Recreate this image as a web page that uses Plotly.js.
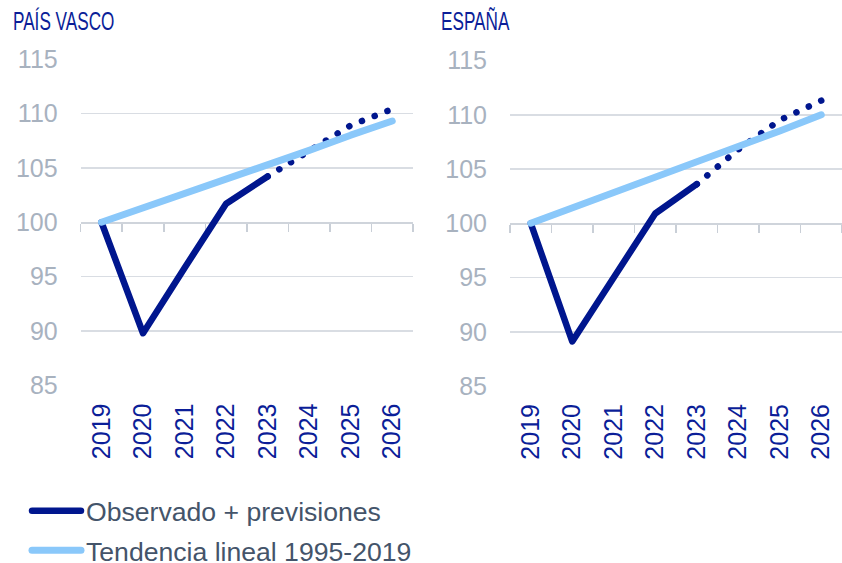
<!DOCTYPE html>
<html>
<head>
<meta charset="utf-8">
<script src="https://cdn.plot.ly/plotly-3.0.1.min.js"></script>
<style>
html,body{margin:0;padding:0;background:#fff;}
#chart{width:842px;height:563px;}
.js-line{stroke-linecap:round;stroke-linejoin:round;}
</style>
</head>
<body>
<div id="chart"></div>
<script>
// ---- data ----
const years = [2019, 2020, 2021, 2022, 2023, 2024, 2025, 2026];
const lastObservedYear = 2023;
const pvObserved = [100, 89.8, 95.8, 101.7, 104.2, 106.6, 108.9, 110.4];
const pvTrend    = [100, 101.3, 102.7, 104.0, 105.3, 106.6, 108.0, 109.3];
const esObserved = [100, 89.1, 95.0, 100.9, 103.6, 106.8, 109.5, 111.3];
const esTrend    = [100, 101.4, 102.8, 104.2, 105.7, 107.1, 108.5, 110.0];
const panelTitles = ['PAÍS VASCO', 'ESPAÑA'];
const seriesNames = ['Observado + previsiones', 'Tendencia lineal 1995-2019'];
const yTickValues = [85, 90, 95, 100, 105, 110, 115];

// ---- styles ----
const DARK = '#00168e';
const LIGHT = '#8ac8fa';
const GRID = '#d9dde3';
const W = 842, H = 563;

const split = years.indexOf(lastObservedYear) + 1;
function obsTraces(vals, xa, ya, showLeg) {
  return [
    {x: years.slice(0, split), y: vals.slice(0, split), xaxis: xa, yaxis: ya,
     type: 'scatter', mode: 'lines', name: seriesNames[0], legendgroup: 'a',
     showlegend: showLeg, line: {color: DARK, width: 6.5}, hoverinfo: 'x+y'},
    {x: years.slice(split - 1), y: vals.slice(split - 1), xaxis: xa, yaxis: ya,
     type: 'scatter', mode: 'lines', name: seriesNames[0], legendgroup: 'a',
     showlegend: false, line: {color: DARK, width: 6.5, dash: '0.1px,13.6px'}, hoverinfo: 'x+y'}
  ];
}
function trendTrace(vals, xa, ya, showLeg) {
  return {x: years, y: vals, xaxis: xa, yaxis: ya, type: 'scatter', mode: 'lines',
    name: seriesNames[1], legendgroup: 'b', showlegend: showLeg,
    line: {color: LIGHT, width: 7}, hoverinfo: 'x+y'};
}

const data = [].concat(
  obsTraces(pvObserved, 'x', 'y', true),
  obsTraces(esObserved, 'x2', 'y2', false),
  [trendTrace(pvTrend, 'x3', 'y', true), trendTrace(esTrend, 'x4', 'y2', false)]
);

const FONT = 'Liberation Sans, Arial, sans-serif';
const xRange = [years[0] - 0.5, years[years.length - 1] + 0.5];
const dom1x = [80.7 / W, 413 / W], dom2x = [510 / W, 1.0];
const dom1y = [(H - 385.5) / H, (H - 59) / H], dom2y = [(H - 386) / H, (H - 60.5) / H];

function labelAxis(domain, anchor) {
  return {domain: domain, anchor: anchor, range: xRange, tickmode: 'array',
    tickvals: years, ticktext: years.map(String), tickangle: -90, ticks: '',
    showline: false, showgrid: false, zeroline: false, ticklabelstandoff: 12,
    tickfont: {family: FONT, size: 25, color: '#0b1e98'}, fixedrange: true};
}
function baseAxis(overlay, ydom) {
  return {overlaying: overlay, anchor: 'free', position: (ydom[0] + ydom[1]) / 2,
    side: 'bottom', layer: 'below traces', range: xRange, tickmode: 'linear',
    tick0: xRange[0], dtick: 1,
    ticks: 'outside', ticklen: 8, tickwidth: 1.5, tickcolor: '#c9cfd7',
    showline: true, linecolor: '#cfd4db', linewidth: 1.5,
    showticklabels: false, showgrid: false, zeroline: false, fixedrange: true};
}
function valueAxis(domain, anchor) {
  return {domain: domain, anchor: anchor, range: [85, 115], tickmode: 'array',
    tickvals: yTickValues, showgrid: true, gridcolor: GRID, gridwidth: 1.5,
    zeroline: false, showline: false, ticks: '', ticklabelstandoff: 22,
    tickfont: {family: FONT, size: 25, color: '#a8b2bf'}, fixedrange: true};
}

const layout = {
  width: W, height: H, margin: {l: 0, r: 0, t: 0, b: 0, autoexpand: false},
  paper_bgcolor: '#fff', plot_bgcolor: 'rgba(0,0,0,0)',
  showlegend: true,
  xaxis: labelAxis(dom1x, 'y'),
  xaxis2: labelAxis(dom2x, 'y2'),
  xaxis3: baseAxis('x', dom1y),
  xaxis4: baseAxis('x2', dom2y),
  yaxis: valueAxis(dom1y, 'x'),
  yaxis2: valueAxis(dom2y, 'x2'),
  legend: {x: 20 / W, y: 1 - 487 / H, xanchor: 'left', yanchor: 'top',
    orientation: 'v', traceorder: 'grouped', tracegroupgap: 2, itemwidth: 56,
    font: {family: FONT, size: 26.6, color: '#44546a'}, bgcolor: 'rgba(0,0,0,0)'},
  annotations: [
    {text: panelTitles[0], xref: 'paper', yref: 'paper', x: 11 / W, y: 1 - 21 / H,
     xanchor: 'left', yanchor: 'middle', showarrow: false,
     font: {family: FONT, size: 26, color: '#0b1e98'}},
    {text: panelTitles[1], xref: 'paper', yref: 'paper', x: 439 / W, y: 1 - 21 / H,
     xanchor: 'left', yanchor: 'middle', showarrow: false,
     font: {family: FONT, size: 26, color: '#0b1e98'}}
  ]
};

Plotly.newPlot('chart', data, layout, {staticPlot: true, displayModeBar: false}).then(function (gd) {
  // widen legend line samples to match the reference
  gd.querySelectorAll('.legendlines path').forEach(function (p) {
    p.setAttribute('d', 'M12,0h49');
  });
  // condensed look of the panel titles
  gd.querySelectorAll('.annotation-text').forEach(function (t) {
    var b = t.getBBox();
    t.setAttribute('transform', 'translate(' + b.x + ',0) scale(0.66,1) translate(' + (-b.x) + ',0)');
  });
});
</script>
</body>
</html>
